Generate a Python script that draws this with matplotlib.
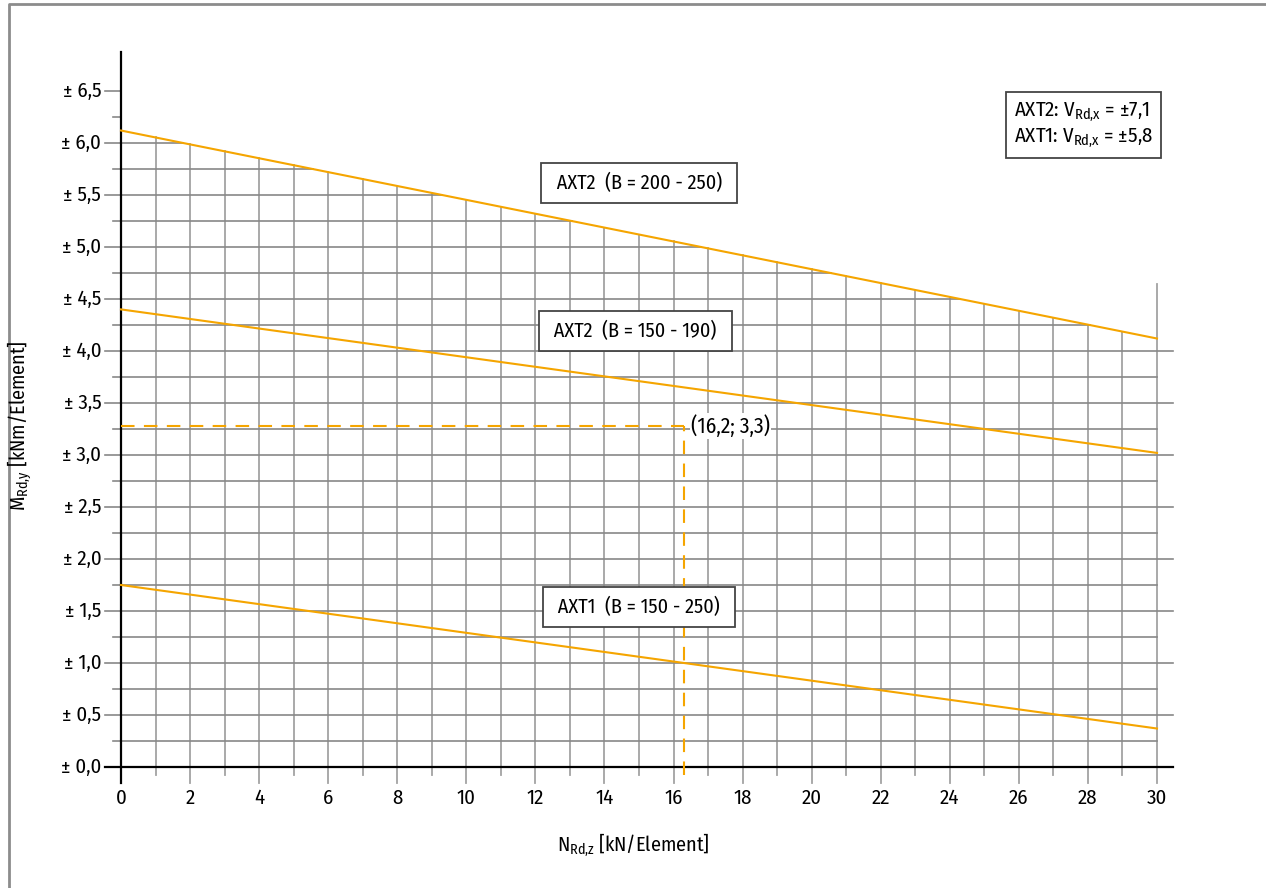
import matplotlib
matplotlib.use("Agg")
import matplotlib.pyplot as plt
import numpy as np

fonts = ['Fira Sans Condensed', 'Roboto Condensed', 'Roboto', 'DejaVu Sans']
plt.rcParams['font.family'] = fonts
plt.rcParams['mathtext.fontset'] = 'custom'
plt.rcParams['mathtext.rm'] = fonts[0]
plt.rcParams['mathtext.it'] = fonts[0]

# data
n_ends = [0, 30]
axt2_big = [6.12, 4.12]    # AXT2 (B = 200 - 250)
axt2_small = [4.40, 3.02]  # AXT2 (B = 150 - 190)
axt1 = [1.75, 0.37]        # AXT1 (B = 150 - 250)
example_n, example_m = 16.3, 3.28
x_ticks = list(range(0, 31, 2))
y_ticks = [i * 0.5 for i in range(14)]
y_labels = ["± " + ("%.1f" % v).replace(".", ",") for v in y_ticks]

W, H = 1266, 888
fig = plt.figure(figsize=(W / 100, H / 100), dpi=100)
ax = fig.add_axes([121 / W, (H - 767) / H, (1157 - 121) / W, (767 - 91) / H])
ax.set_xlim(0, 30)
ax.set_ylim(0, 6.5)
ax.axis("off")

orange = "#f5a500"
gcol_h = "#888888"
gcol_v = "#a3a3a3"
fs = 14.5

def upper(x):
    return np.interp(x, n_ends, axt2_big)

slope = (axt2_big[1] - axt2_big[0]) / (n_ends[1] - n_ends[0])

# vertical grid lines, clipped by the top line
for i in range(1, 31):
    bottom = -0.154 if i % 2 == 0 else -0.077
    top = upper(i) if i < 30 else 4.64
    ax.plot([i, i], [bottom, top], color=gcol_v, lw=1.3, clip_on=False, zorder=1)

# horizontal grid lines (left part doubles as tick mark)
for j in range(1, 27):
    y = j * 0.25
    major = j % 2 == 0
    left = -0.46 if major else -0.23
    right = 30.45 if major else 30
    if y > axt2_big[1]:
        right = min(right, (y - axt2_big[0]) / slope)
    right = max(right, 0)
    ax.plot([left, right], [y, y], color=gcol_h, lw=1.2, clip_on=False, zorder=1)

# axes
ax.plot([0, 0], [-0.154, 6.875], color="black", lw=1.6, clip_on=False, zorder=3)
ax.plot([-0.46, 30.45], [0, 0], color="black", lw=1.6, clip_on=False, zorder=3)

for xv in x_ticks:
    ax.text(xv, -0.3, str(xv), ha="center", va="center", fontsize=15)
for yv, lab in zip(y_ticks, y_labels):
    ax.text(-0.57, yv, lab, ha="right", va="center", fontsize=15)

# capacity lines
for vals in (axt2_big, axt2_small, axt1):
    ax.plot(n_ends, vals, color=orange, lw=1.5, clip_on=False, zorder=4)

# example reading
ax.plot([0, example_n], [example_m, example_m], color=orange, lw=1.5,
        dashes=(6.5, 4.5), zorder=4)
ax.plot([example_n, example_n], [-0.077, example_m], color=orange, lw=1.5,
        dashes=(6.5, 4.5), clip_on=False, zorder=4)
ax.text(example_n + 0.2, example_m, "(16,2; 3,3)", ha="left", va="center",
        fontsize=15.5, zorder=5,
        bbox=dict(facecolor="white", edgecolor="none", pad=1))

box = dict(boxstyle="square,pad=0.5", facecolor="white", edgecolor="#444444", lw=1.3)
ax.text(15.0, 5.615, " AXT2  (B = 200 - 250) ", ha="center", va="center",
        fontsize=fs, bbox=box, zorder=6)
ax.text(14.9, 4.19, " AXT2  (B = 150 - 190) ", ha="center", va="center",
        fontsize=fs, bbox=box, zorder=6)
ax.text(15.0, 1.54, " AXT1  (B = 150 - 250) ", ha="center", va="center",
        fontsize=fs, bbox=box, zorder=6)

ax.text(25.86, 6.17,
        "AXT2: V$_{\\mathrm{Rd{,}x}}$ = ±7,1\nAXT1: V$_{\\mathrm{Rd{,}x}}$ = ±5,8",
        ha="left", va="center", fontsize=15, linespacing=1.2,
        bbox=dict(boxstyle="square,pad=0.4", facecolor="white",
                  edgecolor="#444444", lw=1.3), zorder=6)

# axis titles
fig.text(633 / W, 1 - 845 / H, "N$_{\\mathrm{Rd{,}z}}$ [kN/Element]",
         ha="center", va="center", fontsize=fs)
fig.text(20 / W, 1 - 426 / H, "M$_{\\mathrm{Rd{,}y}}$ [kNm/Element]",
         ha="center", va="center", rotation=90, fontsize=fs)

# outer frame (left and top)
fig.add_artist(plt.Line2D([9 / W, 9 / W, 1], [0, 1 - 4 / H, 1 - 4 / H],
                          transform=fig.transFigure, color="#8c8c8c", lw=2))

fig.savefig("out.png", dpi=100)
